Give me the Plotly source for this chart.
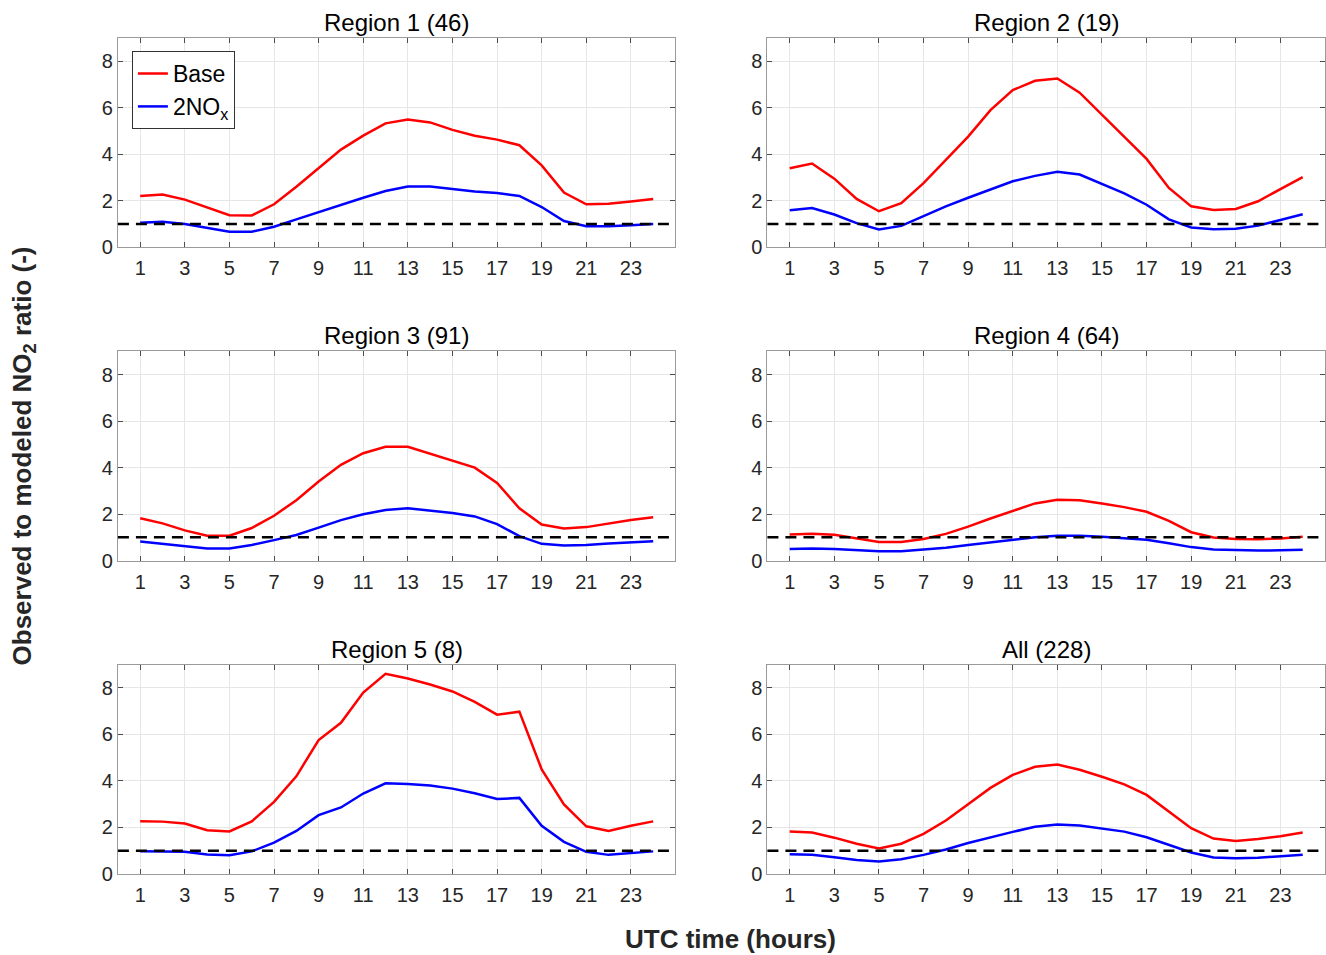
import plotly.graph_objects as go
from plotly.subplots import make_subplots

hours = list(range(1, 25))

titles = ["Region 1 (46)", "Region 2 (19)", "Region 3 (91)", "Region 4 (64)", "Region 5 (8)", "All (228)"]

base_r1 = [2.2, 2.27, 2.05, 1.7, 1.38, 1.37, 1.85, 2.6, 3.4, 4.2, 4.8, 5.33, 5.5, 5.37, 5.05, 4.8, 4.63, 4.39, 3.52, 2.35, 1.85, 1.87, 1.97, 2.08]
nox_r1 = [1.05, 1.1, 1.0, 0.83, 0.67, 0.67, 0.88, 1.2, 1.52, 1.82, 2.13, 2.42, 2.61, 2.61, 2.5, 2.4, 2.33, 2.21, 1.73, 1.13, 0.9, 0.9, 0.95, 1.0]

base_r2 = [3.4, 3.6, 2.95, 2.08, 1.55, 1.9, 2.76, 3.75, 4.76, 5.9, 6.76, 7.16, 7.26, 6.65, 5.7, 4.78, 3.8, 2.55, 1.76, 1.6, 1.65, 1.98, 2.5, 3.02]
nox_r2 = [1.59, 1.69, 1.41, 1.04, 0.77, 0.92, 1.34, 1.76, 2.13, 2.49, 2.84, 3.07, 3.25, 3.13, 2.72, 2.32, 1.83, 1.2, 0.85, 0.78, 0.8, 0.93, 1.17, 1.42]

base_r3 = [1.82, 1.6, 1.3, 1.07, 1.07, 1.4, 1.93, 2.6, 3.4, 4.12, 4.62, 4.9, 4.9, 4.61, 4.32, 4.0, 3.34, 2.25, 1.55, 1.38, 1.44, 1.6, 1.75, 1.86]
nox_r3 = [0.82, 0.72, 0.6, 0.52, 0.52, 0.67, 0.88, 1.1, 1.42, 1.74, 1.99, 2.18, 2.25, 2.15, 2.05, 1.9, 1.57, 1.05, 0.72, 0.65, 0.67, 0.73, 0.79, 0.83]

base_r4 = [1.12, 1.16, 1.11, 0.94, 0.8, 0.8, 0.93, 1.15, 1.46, 1.81, 2.13, 2.46, 2.62, 2.6, 2.46, 2.3, 2.1, 1.71, 1.22, 0.99, 0.93, 0.92, 0.95, 1.03]
nox_r4 = [0.5, 0.52, 0.5, 0.45, 0.4, 0.4, 0.46, 0.55, 0.67, 0.78, 0.88, 1.0, 1.07, 1.07, 1.03, 0.97, 0.9, 0.75, 0.58, 0.48, 0.44, 0.43, 0.44, 0.47]

base_r5 = [2.27, 2.25, 2.17, 1.88, 1.83, 2.26, 3.1, 4.2, 5.76, 6.5, 7.8, 8.61, 8.41, 8.15, 7.85, 7.4, 6.85, 6.98, 4.5, 2.99, 2.05, 1.85, 2.07, 2.26]
nox_r5 = [0.97, 0.97, 0.95, 0.84, 0.8, 0.97, 1.35, 1.85, 2.53, 2.86, 3.46, 3.9, 3.87, 3.8, 3.67, 3.47, 3.22, 3.27, 2.07, 1.38, 0.95, 0.82, 0.9, 0.97]

base_all = [1.83, 1.78, 1.56, 1.3, 1.1, 1.3, 1.72, 2.3, 3.0, 3.7, 4.26, 4.61, 4.71, 4.48, 4.18, 3.85, 3.4, 2.7, 1.97, 1.52, 1.42, 1.5, 1.62, 1.78]
nox_all = [0.85, 0.82, 0.72, 0.6, 0.53, 0.63, 0.82, 1.05, 1.33, 1.58, 1.81, 2.03, 2.13, 2.08, 1.95, 1.82, 1.58, 1.25, 0.92, 0.71, 0.67, 0.7, 0.75, 0.82]

base_series = [base_r1, base_r2, base_r3, base_r4, base_r5, base_all]
nox_series = [nox_r1, nox_r2, nox_r3, nox_r4, nox_r5, nox_all]

reference_ratio = 1
x_ticks = list(range(1, 24, 2))
y_ticks = [0, 2, 4, 6, 8]

# ---- layout (pixels) ----
W, H = 1326, 955
H_EFF = 943  # effective vertical extent observed in the rendered page
col_px = [(118, 676), (768, 1326)]
row_px = [(38, 247), (351, 560), (664, 873)]
FONT = "Liberation Sans, Arial, Helvetica, sans-serif"


def px_x(p):
    return p / W


def px_y(p):
    return 1 - p / H_EFF


fig = make_subplots(rows=3, cols=2)

for i in range(6):
    r, c = i // 2 + 1, i % 2 + 1
    fig.add_trace(go.Scatter(x=hours, y=base_series[i], mode="lines", name="Base",
                             line=dict(color="#ff0000", width=2.5),
                             showlegend=(i == 0), legendrank=1), row=r, col=c)
    fig.add_trace(go.Scatter(x=hours, y=nox_series[i], mode="lines", name="2NO<sub>x</sub>",
                             line=dict(color="#0000ff", width=2.5),
                             showlegend=(i == 0), legendrank=2), row=r, col=c)
    fig.add_hline(y=reference_ratio, row=r, col=c,
                  line=dict(color="#000000", width=2.5, dash="11px,7px"))

annotations = []
for i in range(6):
    r, c = i // 2, i % 2
    x0, x1 = col_px[c]
    y0, y1 = row_px[r]
    xd = [px_x(x0), min(px_x(x1), 1.0)]
    yd = [px_y(y1), px_y(y0)]
    n = i + 1
    xa = "xaxis" if n == 1 else f"xaxis{n}"
    ya = "yaxis" if n == 1 else f"yaxis{n}"
    fig.layout[xa].update(
        domain=xd, range=[0, 25], tickvals=x_ticks, ticks="inside", ticklen=5,
        tickcolor="#4d4d4d", showline=True, linecolor="#9a9a9a", linewidth=1, mirror="allticks",
        showgrid=True, gridcolor="#e6e6e6", gridwidth=1, zeroline=False,
        ticklabelstandoff=3,
        tickfont=dict(family=FONT, size=20, color="#262626"))
    fig.layout[ya].update(
        domain=yd, range=[0, 9], tickvals=y_ticks, ticks="inside", ticklen=5,
        tickcolor="#4d4d4d", showline=True, linecolor="#9a9a9a", linewidth=1, mirror="allticks",
        showgrid=True, gridcolor="#e6e6e6", gridwidth=1, zeroline=False,
        tickfont=dict(family=FONT, size=20, color="#262626"))
    annotations.append(dict(text=titles[i], x=px_x((x0 + x1) / 2), y=px_y(y0),
                            xref="paper", yref="paper", xanchor="center", yanchor="bottom",
                            yshift=0, showarrow=False,
                            font=dict(family=FONT, size=24, color="#000000")))

annotations.append(dict(text="<b>UTC time (hours)</b>", x=px_x(731), y=px_y(938),
                        xref="paper", yref="paper", xanchor="center", yanchor="middle",
                        showarrow=False, font=dict(family=FONT, size=26, color="#262626")))
annotations.append(dict(text="<b>Observed to modeled NO<sub>2</sub> ratio (-)</b>", x=px_x(23), y=px_y(455),
                        xref="paper", yref="paper", xanchor="center", yanchor="middle",
                        textangle=-90, showarrow=False,
                        font=dict(family=FONT, size=26, color="#262626")))

fig.update_layout(
    width=W, height=H,
    margin=dict(l=0, r=0, t=0, b=0),
    paper_bgcolor="white", plot_bgcolor="white",
    annotations=annotations,
    showlegend=True,
    legend=dict(x=px_x(132), y=px_y(51), xanchor="left", yanchor="top",
                bgcolor="white", bordercolor="#333333", borderwidth=1,
                font=dict(family=FONT, size=23, color="#000000"),
                tracegroupgap=0, itemwidth=30),
)

fig.write_html("out.html", config={"displayModeBar": False},
               post_script="document.body.style.margin='0';document.body.style.overflow='hidden';")
